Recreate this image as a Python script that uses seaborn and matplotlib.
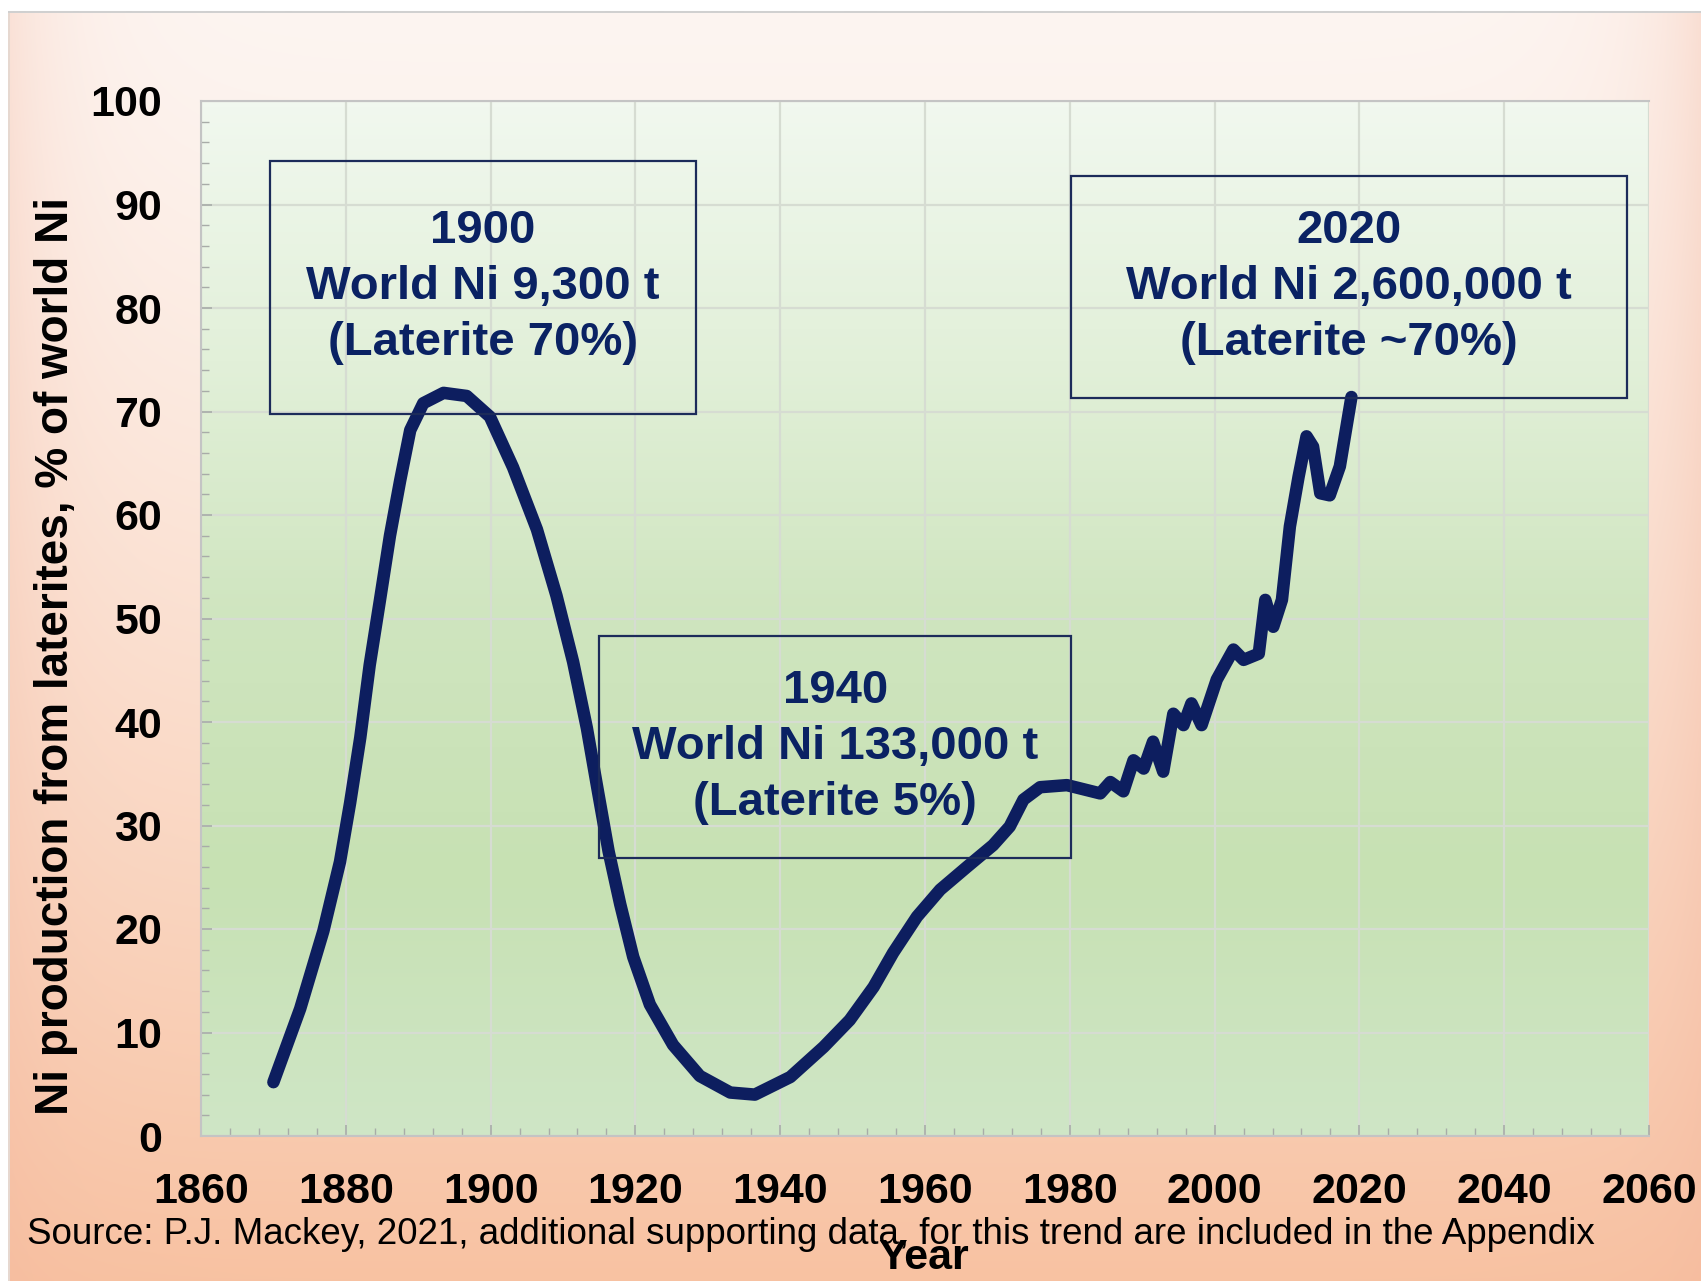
import numpy as np
import matplotlib
matplotlib.use("Agg")
import matplotlib.pyplot as plt
from matplotlib.colors import LinearSegmentedColormap, to_rgb
from matplotlib.patches import Rectangle
from matplotlib.ticker import MultipleLocator
import seaborn as sns

# Share of world nickel production coming from laterite ores (%)
years = [1870.0, 1873.7, 1876.9, 1879.2, 1880.6, 1882.0, 1883.3, 1884.7, 1886.1, 1887.5,
         1888.9, 1890.7, 1893.5, 1896.7, 1899.9, 1903.1, 1906.4, 1909.1, 1911.4, 1913.3,
         1914.9, 1916.3, 1917.9, 1919.7, 1922.0, 1925.2, 1928.9, 1933.1, 1936.5, 1941.4,
         1946.0, 1949.6, 1952.9, 1955.6, 1958.9, 1962.1, 1965.8, 1969.4, 1971.7, 1973.6,
         1975.9, 1979.6, 1984.2, 1985.6, 1987.4, 1988.8, 1990.2, 1991.5, 1992.9, 1994.3,
         1995.7, 1996.8, 1998.2, 2000.3, 2002.6, 2004.0, 2006.1, 2007.0, 2008.1, 2009.3,
         2010.4, 2011.6, 2012.7, 2013.6, 2014.6, 2015.9, 2017.3, 2018.9]
laterite_share = [5.2, 12.3, 19.8, 26.5, 32.2, 38.5, 45.5, 51.7, 58.0, 63.3,
                  68.2, 70.8, 71.8, 71.5, 69.5, 64.6, 58.6, 52.2, 45.8, 39.4,
                  33.0, 27.5, 22.4, 17.3, 12.7, 8.8, 5.8, 4.2, 4.0, 5.7,
                  8.6, 11.2, 14.4, 17.7, 21.2, 23.8, 26.0, 28.1, 29.9, 32.5,
                  33.7, 33.9, 33.1, 34.2, 33.3, 36.3, 35.5, 38.1, 35.2, 40.8,
                  39.7, 41.8, 39.7, 44.1, 47.0, 46.0, 46.6, 51.8, 49.2, 51.8,
                  58.9, 63.7, 67.6, 66.6, 62.1, 61.9, 64.7, 71.4]

x_ticks = [1860, 1880, 1900, 1920, 1940, 1960, 1980, 2000, 2020, 2040, 2060]
y_ticks = [0, 10, 20, 30, 40, 50, 60, 70, 80, 90, 100]

# Callout boxes: (x0, x1, y0, y1, text)
callouts = [
    (1869.5, 1928.4, 69.8, 94.2, "1900\nWorld Ni 9,300 t\n(Laterite 70%)"),
    (1915.0, 1980.2, 26.9, 48.3, "1940\nWorld Ni 133,000 t\n(Laterite 5%)"),
    (1980.2, 2057.0, 71.3, 92.8, "2020\nWorld Ni 2,600,000 t\n(Laterite ~70%)"),
]

sns.set_theme(style="ticks")
plt.rcParams["font.family"] = ["Liberation Sans", "DejaVu Sans"]

W, H = 1701, 1281
fig = plt.figure(figsize=(W / 100, H / 100), dpi=100)

# Slide background: pale pink at top fading to peach at the bottom
bg = fig.add_axes([0, 0, 1, 1], zorder=-10)
bg.set_axis_off()
rows = np.linspace(0, 1, H)[:, None]
cols = np.linspace(0, 1, W)[None, :]
top_c = np.array(to_rgb("#fdf5f1"))
bot_c = np.array(to_rgb("#f8c2a2"))
img = top_c * (1 - rows[..., None] ** 1.3) + bot_c * (rows[..., None] ** 1.3)
img = np.broadcast_to(img, (H, W, 3)).copy()
edge = np.exp(-np.minimum(cols, 1 - cols) * W / 60.0)[..., None]
img = img * (1 - 0.35 * edge) + np.array(to_rgb("#f3b49b")) * 0.35 * edge
img[:11, :, :] = 1.0
img[11:13, :, :] = np.array(to_rgb("#d0d0d0"))
img[:, :8, :] = 1.0
img[13:, 8:10, :] = np.array(to_rgb("#e6d8d0"))
bg.imshow(img, extent=[0, 1, 0, 1], aspect="auto", interpolation="bilinear")

ax = fig.add_axes([201 / W, 1 - 1136 / H, 1448 / W, 1035 / H])
ax.set_facecolor("none")

# Plot-area gradient: near-white mint at the top to soft green lower down
plot_cmap = LinearSegmentedColormap.from_list(
    "plotbg", ["#cfe6c6", "#c7e1b3", "#cfe5bf", "#e2f0d9", "#f1f8ef"])
grad = np.linspace(0, 1, 256)[:, None]
ax.imshow(grad, extent=[1860, 2060, 0, 100], origin="lower", aspect="auto",
          cmap=plot_cmap, zorder=-1, interpolation="bilinear")

sns.lineplot(x=years, y=laterite_share, ax=ax, color="#0d1e5f", linewidth=9,
             solid_capstyle="round", solid_joinstyle="round", zorder=3)

for x0, x1, y0, y1, label in callouts:
    ax.add_patch(Rectangle((x0, y0), x1 - x0, y1 - y0, fill=False,
                           edgecolor="#1c2b5a", linewidth=1.6, zorder=4))
    ax.text((x0 + x1) / 2, (y0 + y1) / 2, label, ha="center", va="center",
            fontsize=34, fontweight="bold", color="#0a2263", linespacing=1.35,
            zorder=5)

ax.set_xlim(1860, 2060)
ax.set_ylim(0, 100)
ax.set_xticks(x_ticks)
ax.set_yticks(y_ticks)
ax.xaxis.set_minor_locator(MultipleLocator(4))
ax.yaxis.set_minor_locator(MultipleLocator(2))
ax.grid(True, which="major", color="#d6dcd2", linewidth=1.6)
ax.set_axisbelow(True)
ax.tick_params(axis="both", which="both", direction="in", color="#a8aca8")
ax.tick_params(axis="both", which="major", length=8, width=1.2,
               labelsize=31, labelcolor="black", pad=28)
ax.tick_params(axis="x", which="major", pad=26)
ax.tick_params(axis="both", which="minor", length=6, width=1.0)
for lbl in ax.get_xticklabels() + ax.get_yticklabels():
    lbl.set_fontweight("bold")
for side, sp in ax.spines.items():
    sp.set_color("#c4c4c4")
    sp.set_linewidth(1.5)
ax.spines["right"].set_visible(False)
ax.set_xlabel("")
ax.set_ylabel("")

fig.text(56 / W, 1 - 656 / H, "Ni production from laterites, % of world Ni",
         rotation=90, ha="center", va="center", fontsize=33, fontweight="bold",
         color="black")
fig.text(924 / W, 1 - 1258 / H, "Year", ha="center", va="center",
         fontsize=31, fontweight="bold", color="black")
fig.text(27 / W, 1 - 1234 / H,
         "Source: P.J. Mackey, 2021, additional supporting data, for this trend are included in the Appendix",
         ha="left", va="center", fontsize=26.5, color="black")

fig.savefig("out.png", dpi=100)
